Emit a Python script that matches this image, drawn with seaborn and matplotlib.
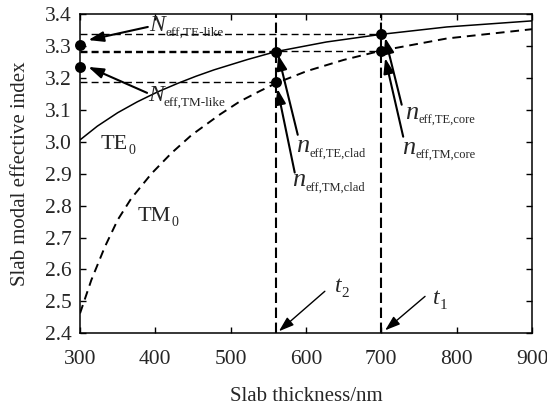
import matplotlib
matplotlib.use("Agg")
import matplotlib.pyplot as plt
import seaborn as sns
import pandas as pd

# Slab thickness (nm) and effective index of the fundamental TE and TM slab modes
te_thickness = [300, 323, 350, 376, 403, 430, 454, 478, 522, 560, 627, 700, 787, 900]
te_index = [3.005, 3.048, 3.090, 3.124, 3.155, 3.182, 3.204, 3.224, 3.256, 3.281,
            3.311, 3.335, 3.358, 3.377]
tm_thickness = [300, 315, 333, 350, 368, 395, 421, 448, 486, 512, 539, 560, 601,
                650, 700, 787, 900]
tm_index = [2.463, 2.567, 2.671, 2.755, 2.822, 2.900, 2.963, 3.020, 3.085, 3.125,
            3.158, 3.182, 3.220, 3.255, 3.284, 3.322, 3.351]

# Cladding / core thicknesses and the indices read at them
t2, t1 = 560, 700
n_te_clad, n_tm_clad = 3.281, 3.185
n_te_core, n_tm_core = 3.335, 3.284
N_te_like, N_tm_like = 3.302, 3.234

x_ticks = [300, 400, 500, 600, 700, 800, 900]
y_ticks = [2.4, 2.5, 2.6, 2.7, 2.8, 2.9, 3.0, 3.1, 3.2, 3.3, 3.4]

sns.set_style("ticks")
plt.rcParams["font.family"] = ["Liberation Serif", "DejaVu Serif"]

fig = plt.figure(figsize=(5.47, 4.07), dpi=100)
ax = fig.add_axes([0.1463, 0.1806, 0.8263, 0.7862])

te_df = pd.DataFrame({"t": te_thickness, "n": te_index})
tm_df = pd.DataFrame({"t": tm_thickness, "n": tm_index})
sns.lineplot(data=te_df, x="t", y="n", ax=ax, color="black", lw=1.1, sort=False)
sns.lineplot(data=tm_df, x="t", y="n", ax=ax, color="black", lw=1.4, sort=False,
             linestyle=(0, (4.5, 3)))

# reference thicknesses
for t in (t2, t1):
    ax.axvline(t, color="black", lw=1.5, linestyle=(0, (5, 2.2)), zorder=1)

# index levels carried back to the left axis
for level, xend in ((n_te_core, t1), (n_tm_core, t1), (n_te_clad, t2), (n_tm_clad, t2)):
    ax.plot([300, xend], [level, level], color="black", lw=1.0,
            linestyle=(0, (5, 3)), zorder=1)

pts = pd.DataFrame({
    "t": [300, 300, t2, t2, t1, t1],
    "n": [N_te_like, N_tm_like, n_te_clad, n_tm_clad, n_te_core, n_tm_core],
})
sns.scatterplot(data=pts, x="t", y="n", ax=ax, color="black", s=62,
                edgecolor="black", linewidth=0, zorder=5, clip_on=False)


def symbol(x, y, main, sub, size=16, subsize=9.5, italic=True):
    """Symbol with a small upright subscript, e.g. n_eff,TE,core."""
    body = ax.text(x, y, main, fontsize=size, va="baseline",
                   style="italic" if italic else "normal")
    ax.annotate(sub, xy=(1, 0), xycoords=body, xytext=(0.3, -2.2),
                textcoords="offset points", fontsize=subsize, va="bottom",
                ha="left")


arrow = dict(arrowstyle="-|>,head_length=0.65,head_width=0.22", color="black",
             lw=1.5, shrinkA=0, shrinkB=0, mutation_scale=14)
thin_arrow = dict(arrow, lw=1.0)

ax.annotate("", xy=(311, 3.317), xytext=(390, 3.358), arrowprops=arrow)
symbol(392, 3.345, "N", "eff,TE-like", size=17)
ax.annotate("", xy=(311, 3.233), xytext=(389, 3.152), arrowprops=arrow)
symbol(390, 3.127, "N", "eff,TM-like", size=17)

symbol(327, 2.977, "TE", "0", size=16, subsize=10, italic=False)
symbol(377, 2.752, "TM", "0", size=16, subsize=10, italic=False)

ax.annotate("", xy=(563, 3.271), xytext=(589, 3.021), arrowprops=arrow)
symbol(587, 2.967, "n", "eff,TE,clad", size=19, subsize=9)
ax.annotate("", xy=(562, 3.165), xytext=(585, 2.903), arrowprops=arrow)
symbol(581, 2.861, "n", "eff,TM,clad", size=19, subsize=9)

ax.annotate("", xy=(705, 3.324), xytext=(727, 3.115), arrowprops=arrow)
symbol(731, 3.070, "n", "eff,TE,core", size=19, subsize=9)
ax.annotate("", xy=(705, 3.261), xytext=(729, 3.015), arrowprops=arrow)
symbol(727, 2.961, "n", "eff,TM,core", size=19, subsize=9)

ax.annotate("", xy=(564, 2.407), xytext=(625, 2.532), arrowprops=thin_arrow)
symbol(638, 2.531, "t", "2", size=17, subsize=11)
ax.annotate("", xy=(705, 2.41), xytext=(758, 2.516), arrowprops=thin_arrow)
symbol(768, 2.493, "t", "1", size=17, subsize=11)

ax.set_xlim(300, 900)
ax.set_ylim(2.4, 3.4)
ax.set_xticks(x_ticks)
ax.set_yticks(y_ticks)
ax.set_yticklabels([f"{v:.1f}" for v in y_ticks])
ax.set_xlabel("Slab thickness/nm", fontsize=15)
ax.set_ylabel("Slab modal effective index", fontsize=15)
ax.xaxis.set_label_coords(0.5, -0.168)
ax.yaxis.set_label_coords(-0.11, 0.5)

ax.tick_params(axis="both", which="both", direction="in", length=4, width=1.0,
               labelsize=15.5, top=True, right=True, color="black")
ax.tick_params(axis="x", pad=12)
ax.tick_params(axis="y", pad=6)
for side in ax.spines.values():
    side.set_visible(True)
    side.set_linewidth(1.1)
    side.set_color("black")

fig.savefig("out.png", dpi=100)
